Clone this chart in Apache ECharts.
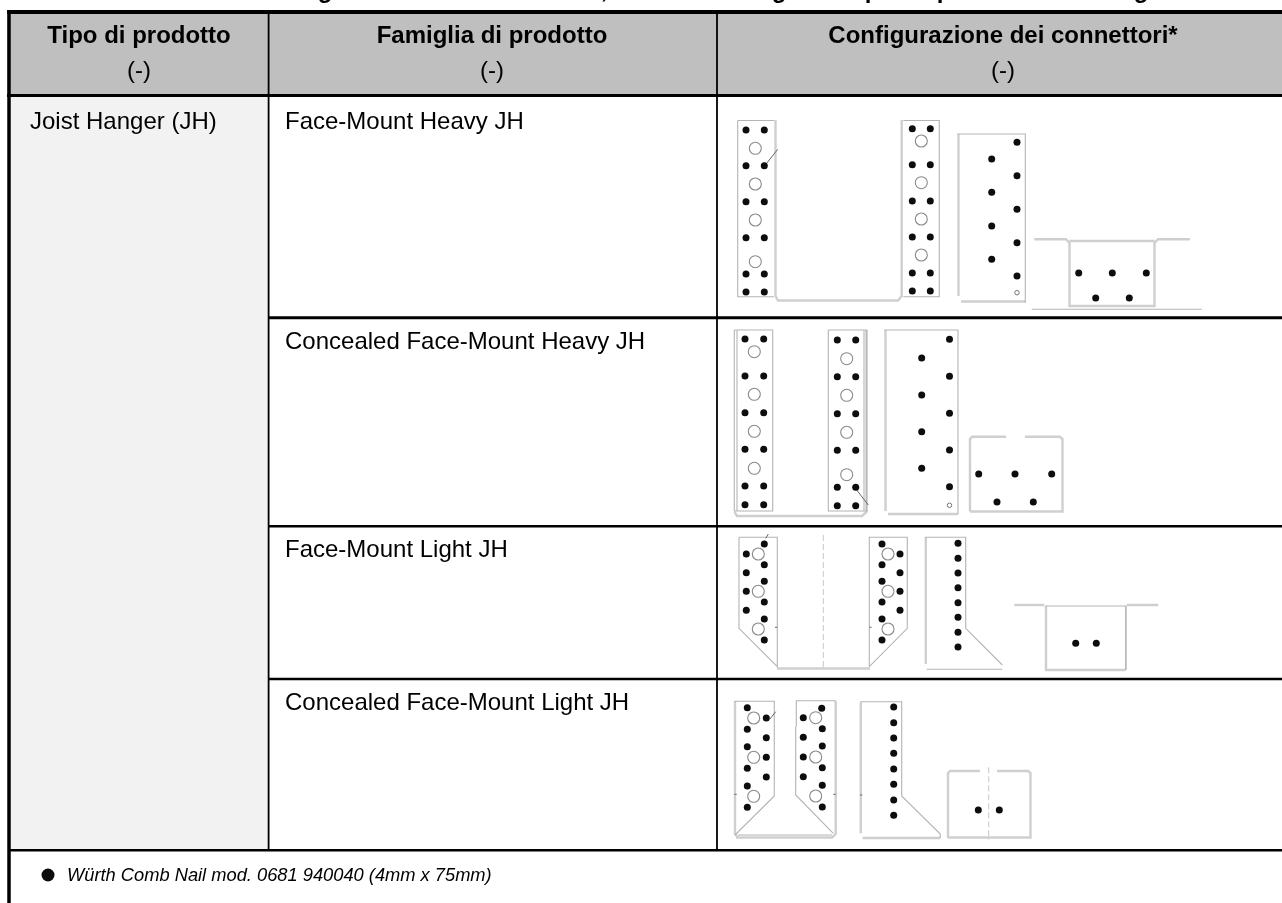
<!DOCTYPE html>
<html><head><meta charset="utf-8">
<style>html,body{margin:0;padding:0;background:#fff}#c{width:1282px;height:903px}</style>
<script src="https://cdn.jsdelivr.net/npm/echarts@6/dist/echarts.min.js"></script>
</head><body><div id="c"></div>
<script>
// ---- texts
const headers = ['Tipo di prodotto', 'Famiglia di prodotto', 'Configurazione dei connettori*'];
const headerUnit = '(-)';
const productType = 'Joist Hanger (JH)';
const families = ['Face-Mount Heavy JH', 'Concealed Face-Mount Heavy JH', 'Face-Mount Light JH', 'Concealed Face-Mount Light JH'];
const note = 'Würth Comb Nail mod. 0681 940040 (4mm x 75mm)';
const clippedTitle = [[325,'g'],[604,','],[779,'g'],[872,'p'],[944,'p'],[1141,'g']];

// ---- table geometry, in the page plane of the hidden axes
const fills = [[7,14,1282,94,'#BFBFBF'],[10.5,97,268,849,'#F2F2F2']];
const tableRules = [
  [7,12,1282,12,4],[7,95.5,1282,95.5,3.2],[9,10,9,903,3.5],
  [268.6,14,268.6,850,1.8],[717,14,717,850,1.8],
  [268,317.8,1282,317.8,3],[268,526.2,1282,526.2,2.4],[268,679,1282,679,2.4],[9,850.2,1282,850.2,2.6]
];

// ---- connector positions
const nails = [
 // row 1
 [746,130],[764.3,130],[746,165.7],[764.3,165.7],[746,201.7],[764.3,201.7],[746,237.7],[764.3,237.7],[746,274],[764.3,274],[746,292],[764.3,292],
 [912.3,128.7],[930.3,128.7],[912.3,164.7],[930.3,164.7],[912.3,201],[930.3,201],[912.3,237],[930.3,237],[912.3,273],[930.3,273],[912.3,291],[930.3,291],
 [1017,142.3],[1017,175.7],[1017,209.3],[1017,242.7],[1017,276],[991.7,159],[991.7,192.3],[991.7,226],[991.7,259.3],
 [1078.7,273],[1112.3,273],[1146.3,273],[1095.7,298],[1129.3,298],
 // row 2
 [745,339],[763.7,339],[745,376],[763.7,376],[745,412.7],[763.7,412.7],[745,449.3],[763.7,449.3],[745,486],[763.7,486],[745,504.7],[763.7,504.7],
 [837.3,340],[855.7,340],[837.3,376.7],[855.7,376.7],[837.3,413.7],[855.7,413.7],[837.3,450.3],[855.7,450.3],[837.3,487.3],[855.7,487.3],[837.3,505.7],[855.7,505.7],
 [949.5,339.3],[949.5,376.3],[949.5,413.3],[949.5,450],[949.5,486.7],[921.7,358],[921.7,395],[921.7,431.7],[921.7,468.3],
 [978.7,474],[1015,474],[1051.7,474],[997,502],[1033.3,502],
 // row 3
 [764.3,544],[746.3,554],[764.3,564.7],[746.3,572.7],[764.3,581.3],[746.3,591.3],[764.3,602],[746.3,610.3],[764.3,619],[764.3,640],
 [882,544],[900,554],[882,564.7],[900,572.7],[882,581.3],[900,591.3],[882,602],[900,610.3],[882,619],[882,640],
 [958,543.3],[958,558.3],[958,573],[958,587.7],[958,602.7],[958,617.3],[958,632.3],[958,647],
 [1075.7,643.3],[1096.3,643.3],
 // row 4
 [747.3,707.7],[766.3,718],[747.3,729.3],[766.3,737.7],[747.3,746.7],[766.3,757.3],[747.3,768.3],[766.3,777],[747.3,786],[747.3,807.3],
 [821.7,708.3],[803.3,717.7],[822.3,728.7],[803.3,737.3],[822.3,746],[803.3,757],[822.3,767.7],[803.3,776.7],[822.3,785.3],[822.3,807],
 [893.7,707],[893.7,722.7],[893.7,738],[893.7,753.3],[893.7,769],[893.7,784.3],[893.7,800],[893.7,815.3],
 [978.3,810],[999.3,810]
];
const holes = [
 [755.3,148.3],[755.3,184],[755.3,220],[755.3,261.7],[921.3,141],[921.3,182.7],[921.3,219],[921.3,255],
 [754.3,351.7],[754.3,394.3],[754.3,431.3],[754.3,468.3],[846.7,358.7],[846.7,395.3],[846.7,432.3],[846.7,474.7],
 [758.3,554],[758.3,591.3],[758.3,629],[888,554],[888,591.3],[888,629],
 [753.7,718],[753.7,757.3],[753.7,796.3],[815.7,717.7],[815.7,757],[815.7,796]
];
const pilotHoles = [[1017,292.7],[949.5,505.3]];

// ---- plate outlines
const heavyOutlines = [
 [[775.5,120],[775.5,296],[778,300.5],[898,300.5],[901.7,296],[901.7,120]],
 [[958.5,134],[958.5,296]],[[961,301.5],[1025.3,301.5]],
 [[1034.3,239.3],[1066,239.3],[1069.5,243],[1069.5,306],[1154.5,306],[1154.5,243],[1158,239.3],[1190,239.3]],
 [[1069.5,241],[1154.5,241]],
 [[734.5,512],[737,516],[862,516],[866.5,512],[866.5,330]],
 [[885.5,330],[885.5,511]],[[888,514],[958,514]],
 [[970,511.5],[970,439],[972,436.7],[1006,436.7]],[[1025,436.7],[1060,436.7],[1062.5,439],[1062.5,511.5],[970,511.5]],
 [[777,668.5],[870,668.5]],
 [[925.8,537.3],[925.8,664]],[[1014.3,605],[1044.3,605]],[[1126.7,605],[1158.3,605]],
 [[1046,606],[1046,670],[1125.5,670]],
 [[736,837.5],[832,837.5],[835.7,834],[835.7,701]],[[735,701],[735,834],[738,837.5]],
 [[860.8,701.7],[860.8,833.3]],[[862.5,838],[940.3,838]],
 [[948,838],[948,773],[950,771],[980,771]],[[997,771],[1028,771],[1030.5,773],[1030.5,837.5],[948,837.5]]
];
const thinOutlines = [
 [[737.7,120.5],[774,120.5]],[[737.7,120.5],[737.7,296.7],[774,296.7]],
 [[903.3,120.5],[939.3,120.5],[939.3,296.7],[903.3,296.7]],
 [[957.3,134],[1025.3,134],[1025.3,302.7]],[[1031.7,309.3],[1201.7,309.3]],
 [[734.3,330],[772.7,330],[772.7,511],[734.3,511],[734.3,330]],[[737,330],[737,511]],
 [[828.3,330],[866.7,330],[866.7,511],[828.3,511],[828.3,330]],[[864,330],[864,511]],
 [[884.3,330],[958,330],[958,514]],
 [[739,537.3],[777.3,537.3],[777.3,666.7],[739,628.3],[739,537.3]],
 [[869.3,666.7],[869.3,537.3],[907.3,537.3],[907.3,628.3],[869.3,666.7]],
 [[925,537.3],[965.7,537.3],[965.7,628.3],[1002.3,665]],[[926.7,669.3],[1002.3,669.3]],
 [[1045.3,606],[1125.7,606],[1125.7,670]],[[1126,606],[1126,670]],
 [[734.3,701.3],[774.3,701.3],[774.3,796],[735,835]],
 [[796.3,726.7],[796.3,700.7],[835.7,700.7]],[[795.7,726.7],[795.7,795],[833.3,833.3]],
 [[738,835],[832,835]],
 [[860.8,701.7],[901.7,701.7],[901.7,796],[940.3,834],[940.3,838]]
];
const darkDetails = [
 [[766.7,163.3],[777.7,149.3]],[[856.7,490],[868.3,505]],
 [[765.7,538.3],[768.3,534]],[[775,627.3],[777.3,627.3]],[[869.3,627.3],[871.5,627.3]],
 [[770,719],[775.7,711.7]],[[734.3,794.3],[736.7,794.3]],[[833.3,794.3],[835.7,794.3]],[[860,795],[862.3,795]]
];
const centreLines = [[[823.3,535],[823.3,670]],[[988.7,767.3],[988.7,840]]];

const chart = echarts.init(document.getElementById('c'), null, {renderer:'canvas'});
const FONT = '"Liberation Sans", Arial, sans-serif';

function rectSeries(){
  return {type:'custom',coordinateSystem:'cartesian2d',silent:true,clip:false,z:1,
    data:fills.map(f=>[f[0],f[1],f[2],f[3],f[4]]),
    encode:{x:[0,2],y:[1,3]},
    renderItem:(p,api)=>{
      const a=api.coord([api.value(0),api.value(1)]),b=api.coord([api.value(2),api.value(3)]);
      return {type:'rect',shape:{x:a[0],y:a[1],width:b[0]-a[0],height:b[1]-a[1]},style:{fill:fills[p.dataIndex][4]}};
    }};
}
function ruleSeries(){
  return {type:'custom',coordinateSystem:'cartesian2d',silent:true,clip:false,z:5,
    data:tableRules.map(r=>r.slice()),
    encode:{x:[0,2],y:[1,3]},
    renderItem:(p,api)=>{
      const a=api.coord([api.value(0),api.value(1)]),b=api.coord([api.value(2),api.value(3)]);
      return {type:'line',shape:{x1:a[0],y1:a[1],x2:b[0],y2:b[1]},style:{stroke:'#000',lineWidth:api.value(4)}};
    }};
}
function pathSeries(list,style,z){
  return {type:'custom',coordinateSystem:'cartesian2d',silent:true,clip:false,z:z,
    data:list.map((l,i)=>[l[0][0],l[0][1],i]),
    encode:{x:0,y:1},
    renderItem:(p,api)=>{
      const pts=list[api.value(2)].map(q=>api.coord(q));
      return {type:'polyline',shape:{points:pts},style:Object.assign({fill:null},style)};
    }};
}
const textItems=[];
headers.forEach((h,i)=>{
  const cx=[139,492,1003][i];
  textItems.push([cx,36,h,'bold 24px '+FONT,'center']);
  textItems.push([cx,71,headerUnit,'24px '+FONT,'center']);
});
textItems.push([30,122,productType,'24px '+FONT,'left']);
const rowTextY=[122,342,550,703];
families.forEach((f,i)=>textItems.push([285,rowTextY[i],f,'24px '+FONT,'left']));
textItems.push([67,876,note,'italic 18.3px '+FONT,'left']);
clippedTitle.forEach(c=>textItems.push([c[0],-9,c[1],'bold 24px '+FONT,'center']));

function textSeries(){
  return {type:'custom',coordinateSystem:'cartesian2d',silent:true,clip:false,z:20,
    data:textItems.map((t,i)=>[t[0],t[1],i]),
    encode:{x:0,y:1},
    renderItem:(p,api)=>{
      const t=textItems[api.value(2)],c=api.coord([t[0],t[1]]);
      return {type:'text',style:{x:c[0],y:c[1],text:t[2],font:t[3],fill:'#000',align:t[4],verticalAlign:'middle'}};
    }};
}

chart.setOption({
  animation:false,
  backgroundColor:'#fff',
  grid:{left:0,right:0,top:0,bottom:0},
  xAxis:{type:'value',min:0,max:1282,show:false},
  yAxis:{type:'value',min:0,max:903,inverse:true,show:false},
  series:[
    rectSeries(),
    ruleSeries(),
    pathSeries(heavyOutlines,{stroke:'#cfcfcf',lineWidth:2.4},8),
    pathSeries(thinOutlines,{stroke:'#b4b4b4',lineWidth:1.1},9),
    pathSeries(darkDetails,{stroke:'#666',lineWidth:1},9),
    pathSeries(centreLines,{stroke:'#c8c8c8',lineWidth:1,lineDash:[6,3]},9),
    {type:'scatter',name:'holes',data:holes,symbol:'circle',symbolSize:12,silent:true,z:10,
      itemStyle:{color:'#fff',borderColor:'#8a8a8a',borderWidth:1.1,opacity:1}},
    {type:'scatter',name:'pilot',data:pilotHoles,symbol:'circle',symbolSize:4.5,silent:true,z:10,
      itemStyle:{color:'#fff',borderColor:'#777',borderWidth:1,opacity:1}},
    {type:'scatter',name:'nails',data:nails.concat([[48,875]]),symbol:'circle',silent:true,z:11,
      symbolSize:(v)=>(v[0]===48?13:7),
      itemStyle:{color:'#0d0d0d',opacity:1}},
    textSeries()
  ]
});
</script></body></html>
